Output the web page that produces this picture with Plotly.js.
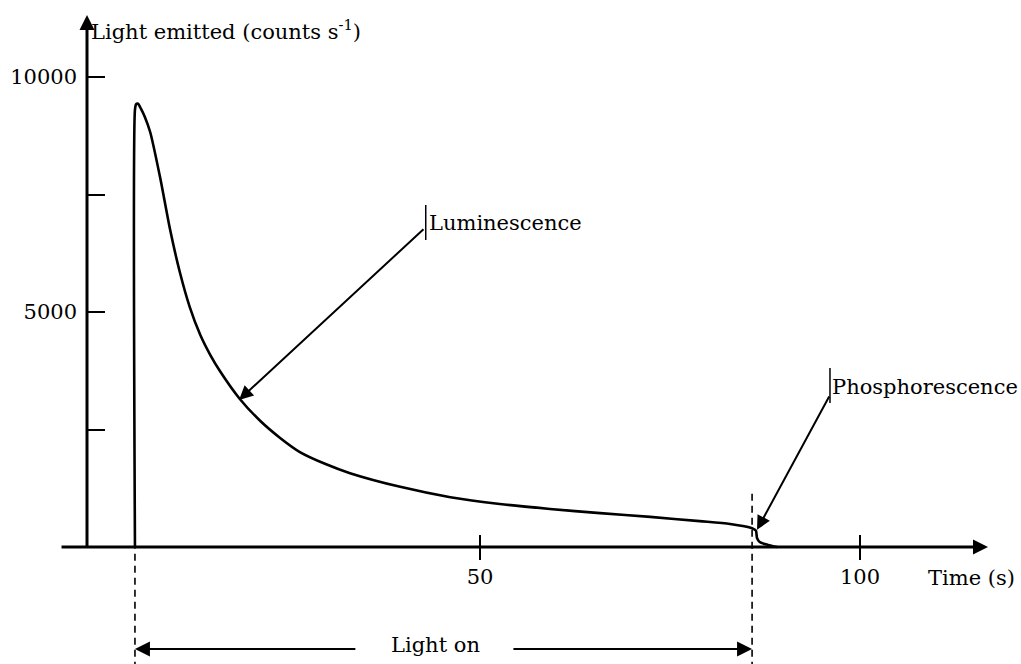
<!DOCTYPE html>
<html>
<head>
<meta charset="utf-8">
<script src="https://cdn.plot.ly/plotly-3.0.1.min.js"></script>
<style>
  html, body { margin: 0; padding: 0; background: #fff; }
  #chart { width: 1021px; height: 664px; }
</style>
</head>
<body>
<div id="chart"></div>
<script>
// Emission trace: time (s) and light emitted (counts per second)
const timeS = [4.6, 4.6, 4.75, 5.0, 5.4, 5.9, 6.6, 7.9, 9.2, 10.5, 11.8, 13.2, 14.5, 15.8,
               18.4, 21.1, 23.7, 26.3, 29.6, 32.9, 39.5, 46.1, 52.6, 59.2, 65.8, 72.4, 78.9,
               82.9, 85.8, 86.3, 86.45, 86.8, 87.9, 89.1];
const counts = [0, 9300, 9420, 9430, 9320, 9150, 8830, 7870, 6770, 5850, 5110, 4510, 4090, 3740,
                3150, 2680, 2320, 2020, 1770, 1570, 1280, 1060, 915, 810, 720, 640, 550,
                490, 400, 350, 190, 105, 45, 0];

// Illumination period (s)
const lightOn = 4.6;
const lightOff = 85.8;

// Axis ticks
const xTickVals = [50, 100];
const xTickText = ['50', '100'];
const yTickVals = [5000, 10000];
const yTickText = ['5000', '10000'];
const yMinorStep = 2500;

// Callouts: [tail x, tail y, head x, head y]
const lumArrow = [42.76, 6790, 18.3, 3130];
const phosArrow = [96.05, 3235, 86.45, 365];

const FONT = 'DejaVu Serif';
const FS = 21;
const INK = '#000';

// Frame of the drawing (data units)
const xRange = [-7.8947, 118.421];
const yRange = [-2404.26, 11553.19];
const yAxisAt = -1.711;      // where the vertical axis stands on the time scale
const xAxisStart = -5.26;
const xAxisEnd = 116.84;
const yAxisTop = 11319;
const pxPerCountY = 0.047;   // screen pixels per count on the vertical scale

function pxY(p) { return p / pxPerCountY; }

const trace = {
  x: timeS, y: counts, type: 'scatter', mode: 'lines',
  line: { color: INK, width: 2.6, shape: 'spline', smoothing: 0.7 },
  hoverinfo: 'skip', showlegend: false
};

const shapes = [];
// tick marks crossing the time axis
xTickVals.forEach(v => {
  shapes.push({ type: 'line', xref: 'x', yref: 'y', x0: v, x1: v, y0: pxY(-13), y1: pxY(12),
                line: { color: INK, width: 2 } });
});
// dashed guides at light on / light off
shapes.push({ type: 'line', xref: 'x', yref: 'paper', x0: lightOn, x1: lightOn, y0: -0.05, y1: 0.1723,
              line: { color: INK, width: 1.6, dash: '7px,5px' } });
shapes.push({ type: 'line', xref: 'x', yref: 'paper', x0: lightOff, x1: lightOff, y0: -0.05, y1: 0.2555,
              line: { color: INK, width: 1.6, dash: '7px,5px' } });
// upright bars in front of the callout labels
[[lumArrow[0] + 0.1, 7277, 6532], [phosArrow[0], 3809, 3064]].forEach(b => {
  shapes.push({ type: 'line', xref: 'x', yref: 'y', x0: b[0], x1: b[0], y0: b[1], y1: b[2],
                line: { color: INK, width: 1.5 } });
});

function arrow(x0, y0, x1, y1, w, size) {
  return { x: x1, y: y1, ax: x0, ay: y0, xref: 'x', yref: 'y', axref: 'x', ayref: 'y',
           text: '', showarrow: true, arrowhead: 2, arrowsize: size, arrowwidth: w,
           arrowcolor: INK, standoff: 0, startstandoff: 0 };
}
function label(text, x, y, anchor) {
  return { x: x, y: y, xref: 'x', yref: 'y', text: text, showarrow: false,
           xanchor: anchor, yanchor: 'middle', font: { family: FONT, size: FS, color: INK } };
}

const annotations = [
  // axes
  arrow(yAxisAt, pxY(-1.5), yAxisAt, yAxisTop, 3, 1),
  arrow(xAxisStart, 0, xAxisEnd, 0, 3, 1),
  // callout arrows
  arrow(lumArrow[0], lumArrow[1], lumArrow[2], lumArrow[3], 2, 1.4),
  arrow(phosArrow[0], phosArrow[1], phosArrow[2], phosArrow[3], 2, 1.4),
  // light-on span
  arrow(33.8, pxY(-102), lightOn, pxY(-102), 2, 1.5),
  arrow(54.2, pxY(-102), lightOff, pxY(-102), 2, 1.5),
  label('Light on', 44.1, pxY(-98), 'center'),
  label('Luminescence', 43.0, pxY(324), 'left'),
  label('Phosphorescence', 96.1, pxY(160), 'left'),
  label('Time (s)', 114.7, pxY(-31), 'center'),
  label('Light emitted (counts s<sup>-1</sup>)', -1.5, pxY(517), 'left')
];

const layout = {
  width: 1021, height: 664,
  margin: { l: 40, r: 21, t: 4, b: 4, pad: 0 },
  paper_bgcolor: '#fff', plot_bgcolor: '#fff',
  font: { family: FONT, size: FS, color: INK },
  showlegend: false,
  xaxis: {
    range: xRange, anchor: 'free', position: 0.17226,
    showgrid: false, zeroline: false, showline: false,
    tickmode: 'array', tickvals: xTickVals, ticktext: xTickText,
    ticks: '', ticklabelstandoff: 15,
    tickfont: { family: FONT, size: FS, color: INK }
  },
  yaxis: {
    range: yRange, anchor: 'free', position: 0.04896,
    showgrid: false, zeroline: false, showline: false,
    tickmode: 'array', tickvals: yTickVals, ticktext: yTickText,
    ticks: 'inside', ticklen: 17, tickwidth: 2, tickcolor: INK,
    minor: { tick0: 0, dtick: yMinorStep, ticks: 'inside', ticklen: 17, tickwidth: 2,
             tickcolor: INK, showgrid: false },
    ticklabelstandoff: 10,
    tickfont: { family: FONT, size: FS, color: INK }
  },
  shapes: shapes,
  annotations: annotations
};

Plotly.newPlot('chart', [trace], layout, { staticPlot: true, displayModeBar: false });
</script>
</body>
</html>
